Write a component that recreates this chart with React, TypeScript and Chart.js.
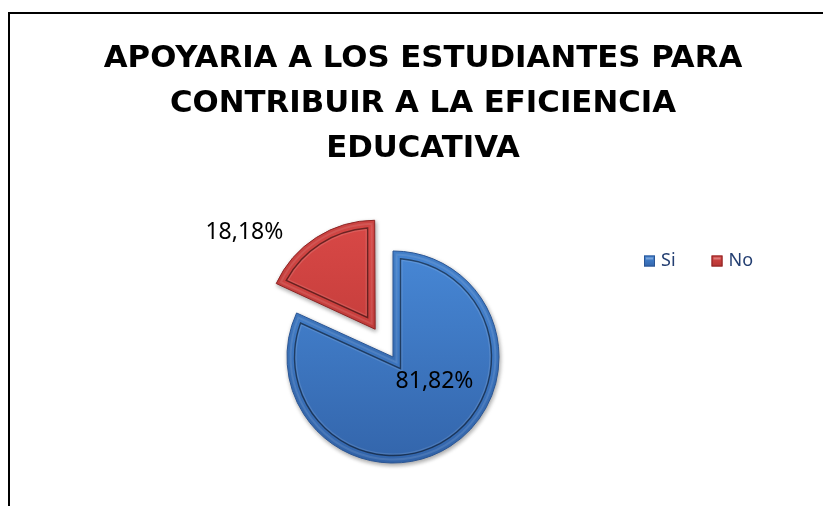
import React, { useEffect, useRef } from 'react';
import { Chart, registerables } from 'chart.js';

Chart.register(...registerables);

// ---- data ----
const categories = ['Si', 'No'];
const values = [81.82, 18.18];
const valueLabels = ['81,82%', '18,18%'];
const titleLines = ['APOYARIA A LOS ESTUDIANTES PARA', 'CONTRIBUIR A LA EFICIENCIA', 'EDUCATIVA'];

// ---- styles ----
const sliceTop = ['#4787d5', '#d84846'];
const sliceBottom = ['#3365ab', '#b53432'];
const sliceBorder = ['#2a5594', '#8c2424'];
const sliceOffsets = [0, 132];
// label placement: angle clockwise from 12 o'clock (deg), distance in radius units
const labelAngles = [121, 310];
const labelDist = [0.457, 1.83];

const PIE_RADIUS = 106;
const PIE_SHIFT_LEFT = 60;

const shapePlugin = {
  id: 'shapeFx',
  afterLayout(chart: any) {
    const a = chart.chartArea;
    a.right = a.right - PIE_SHIFT_LEFT;
    a.width = a.right - a.left;
  },
  beforeDatasetsDraw(chart: any) {
    const ctx = chart.ctx;
    ctx.save();
    ctx.shadowColor = 'rgba(0,0,0,0.35)';
    ctx.shadowBlur = 4;
    ctx.shadowOffsetX = 1;
    ctx.shadowOffsetY = 2;
  },
  afterDatasetsDraw(chart: any) {
    const ctx = chart.ctx;
    ctx.restore();
    const meta = chart.getDatasetMeta(0);
    meta.data.forEach((arc: any) => {
      const { x, y, startAngle, endAngle, outerRadius } = arc.getProps(
        ['x', 'y', 'startAngle', 'endAngle', 'outerRadius'],
        true
      );
      const off = (arc.options.offset || 0) / 4;
      const mid = (startAngle + endAngle) / 2;
      const circ = endAngle - startAngle;
      const fix = 1 - Math.sin(Math.min(Math.PI, circ));
      const cx = x + Math.cos(mid) * off;
      const cy = y + Math.sin(mid) * off;
      const r = outerRadius + off * fix;
      const drawInset = (d: number, color: string, w: number) => {
        const ri = r - d;
        const da = Math.asin(d / ri);
        const vd = d / Math.sin(circ / 2);
        ctx.beginPath();
        ctx.arc(cx, cy, ri, startAngle + da, endAngle - da);
        ctx.lineTo(cx + Math.cos(mid) * vd, cy + Math.sin(mid) * vd);
        ctx.closePath();
        ctx.strokeStyle = color;
        ctx.lineWidth = w;
        ctx.stroke();
      };
      ctx.save();
      drawInset(3.5, 'rgba(255,255,255,0.1)', 2);
      drawInset(7.5, 'rgba(0,0,0,0.5)', 1.4);
      drawInset(9, 'rgba(255,255,255,0.12)', 1.2);
      ctx.restore();
    });

    // data labels
    ctx.save();
    ctx.font = '23px "Noto Sans"';
    ctx.fillStyle = '#000';
    ctx.textAlign = 'center';
    ctx.textBaseline = 'middle';
    meta.data.forEach((arc: any, i: number) => {
      const { x, y, outerRadius } = arc.getProps(['x', 'y', 'outerRadius'], true);
      const t = (labelAngles[i] * Math.PI) / 180;
      const d = labelDist[i] * outerRadius;
      ctx.fillText(valueLabels[i], x + Math.sin(t) * d, y - Math.cos(t) * d);
    });
    ctx.restore();
  },
  afterDraw(chart: any) {
    // horizontal legend on the right
    const ctx = chart.ctx;
    const labels = chart.data.labels as string[];
    ctx.save();
    ctx.font = '18px "Noto Sans"';
    ctx.textBaseline = 'middle';
    ctx.textAlign = 'left';
    let lx = chart.chartArea.right - 119;
    const ly = 261;
    labels.forEach((lab, i) => {
      const g = ctx.createLinearGradient(0, ly - 5.5, 0, ly + 5.5);
      g.addColorStop(0, sliceTop[i]);
      g.addColorStop(1, sliceBottom[i]);
      ctx.fillStyle = g;
      ctx.fillRect(lx, ly - 5.5, 11, 11);
      ctx.strokeStyle = sliceBorder[i];
      ctx.lineWidth = 1;
      ctx.strokeRect(lx + 0.5, ly - 5, 10, 10);
      ctx.fillStyle = 'rgba(255,255,255,0.3)';
      ctx.fillRect(lx + 2, ly - 3.5, 7, 2);
      ctx.fillStyle = '#243F72';
      ctx.fillText(lab, lx + 17, ly);
      const w = ctx.measureText(lab).width;
      lx += 17 + w + 36;
    });
    ctx.restore();
  },
};

export default function App() {
  const canvasRef = useRef<HTMLCanvasElement>(null);

  useEffect(() => {
    document.body.style.margin = '0';
    document.body.style.overflow = 'hidden';
    const canvas = canvasRef.current;
    if (!canvas) return;
    const chart = new Chart(canvas, {
      type: 'pie',
      data: {
        labels: categories,
        datasets: [
          {
            data: values,
            radius: PIE_RADIUS,
            offset: sliceOffsets,
            borderWidth: 1,
            borderColor: sliceBorder,
            backgroundColor: (c: any) => {
              const ch = c.chart;
              const area = ch.chartArea;
              const i = c.dataIndex ?? 0;
              if (!area) return sliceTop[i];
              const cy = (area.top + area.bottom) / 2;
              const g = ch.ctx.createLinearGradient(0, cy - PIE_RADIUS, 0, cy + PIE_RADIUS);
              g.addColorStop(0, sliceTop[i]);
              g.addColorStop(1, sliceBottom[i]);
              return g;
            },
          } as any,
        ],
      },
      options: {
        responsive: false,
        animation: false,
        layout: { padding: { left: 23, right: 0, top: 0, bottom: 0 } },
        plugins: {
          legend: { display: false },
          tooltip: { enabled: false },
          title: {
            display: true,
            text: titleLines,
            color: '#000',
            font: { family: '"DejaVu Sans"', weight: 'bold', size: 30.8, lineHeight: '45px' } as any,
            padding: { top: 36, bottom: 37 },
          },
        },
      },
      plugins: [shapePlugin],
    });
    return () => chart.destroy();
  }, []);

  return (
    <div style={{ position: 'relative', width: 823, height: 506, overflow: 'hidden', background: '#fff' }}>
      <canvas ref={canvasRef} width={823} height={506} style={{ position: 'absolute', left: 0, top: 0 }} />
      <div
        style={{
          position: 'absolute',
          left: 8,
          top: 12,
          width: 1000,
          height: 1000,
          border: '2px solid #000',
          pointerEvents: 'none',
        }}
      />
    </div>
  );
}
